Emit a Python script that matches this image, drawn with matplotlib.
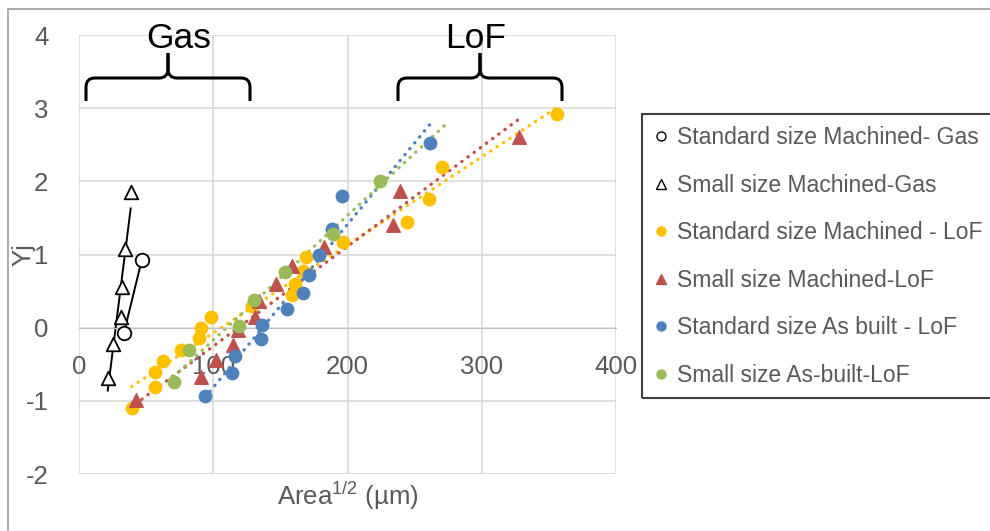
import numpy as np
import matplotlib
matplotlib.use("Agg")
import matplotlib.pyplot as plt
from matplotlib.path import Path
from matplotlib.patches import PathPatch, Rectangle
from matplotlib.lines import Line2D

plt.rcParams['font.family'] = ['Liberation Sans', 'DejaVu Sans']
plt.rcParams['mathtext.fontset'] = 'custom'
plt.rcParams['mathtext.rm'] = 'Liberation Sans'
plt.rcParams['axes.unicode_minus'] = False

# data
gas_std_x = [33.5, 46.7]
gas_std_y = [-0.07, 0.92]

gas_small_x = [21.4, 25.6, 31.0, 31.8, 34.3, 38.5]
gas_small_y = [-0.69, -0.22, 0.15, 0.56, 1.08, 1.85]

lof_std_mach_x = [39.2, 56.6, 56.6, 62.8, 75.7, 89.6, 90.6, 98.1, 128.6, 158.4,
                  161.1, 166.6, 169.1, 196.4, 244.1, 260.5, 270.1, 356.0]
lof_std_mach_y = [-1.10, -0.81, -0.61, -0.46, -0.30, -0.14, -0.01, 0.15, 0.29, 0.44,
                  0.60, 0.78, 0.96, 1.17, 1.44, 1.76, 2.20, 2.92]

lof_small_mach_x = [42.2, 90.9, 102.0, 115.0, 118.2, 131.1, 134.1, 147.0, 158.7,
                    182.7, 233.9, 239.1, 327.5]
lof_small_mach_y = [-0.99, -0.68, -0.44, -0.24, -0.03, 0.15, 0.36, 0.60, 0.84,
                    1.10, 1.41, 1.87, 2.60]

lof_std_built_x = [93.9, 114.2, 116.2, 135.3, 136.0, 154.7, 166.6, 171.5, 178.8,
                   188.5, 196.1, 261.5]
lof_std_built_y = [-0.93, -0.62, -0.39, -0.15, 0.04, 0.26, 0.48, 0.72, 1.00,
                   1.35, 1.80, 2.53]

lof_small_built_x = [70.8, 81.9, 119.4, 130.4, 153.4, 189.4, 224.2]
lof_small_built_y = [-0.74, -0.31, 0.02, 0.38, 0.76, 1.28, 2.01]

labels = ['Standard size Machined- Gas', 'Small size Machined-Gas',
          'Standard size Machined - LoF', 'Small size Machined-LoF',
          'Standard size As built - LoF', 'Small size As-built-LoF']

W, H = 990, 531
fig = plt.figure(figsize=(W / 100, H / 100), dpi=100)


def fx(x):
    return x / W


def fy(y):
    return 1 - y / H


ax = fig.add_axes([fx(79), fy(474), (616 - 79) / W, (474 - 35) / H])
ax.set_xlim(0, 400)
ax.set_ylim(-2, 4)
ax.set_xticks([0, 100, 200, 300, 400])
ax.set_yticks([-2, -1, 0, 1, 2, 3, 4])
ax.grid(True, color='#d9d9d9', lw=1.2)
ax.set_axisbelow(True)
for s in ['top', 'right', 'left']:
    ax.spines[s].set_visible(False)
ax.spines['bottom'].set_position(('data', 0))
ax.spines['bottom'].set_color('#bfbfbf')
ax.tick_params(length=0, labelsize=18.5, colors='#595959')
ax.tick_params(axis='x', pad=20)
ax.tick_params(axis='y', pad=22)


def trend(x, y, color, ext=0.0):
    k, b = np.polyfit(x, y, 1)
    xs = np.array([min(x), max(x) + ext])
    ax.plot(xs, k * xs + b, color=color, lw=2.4, linestyle=(0, (0.1, 2.2)),
            dash_capstyle='round', zorder=2)


def solid_trend(x, y):
    k, b = np.polyfit(x, y, 1)
    xs = np.array([min(x), max(x)])
    ax.plot(xs, k * xs + b, color='black', lw=1.4, zorder=2)


yellow, red, blue, green = '#FFC000', '#C0504D', '#4F81BD', '#9BBB59'

solid_trend(gas_std_x, gas_std_y)
solid_trend(gas_small_x, gas_small_y)
ax.scatter(gas_std_x, gas_std_y, s=95, marker='o', facecolor='white',
           edgecolor='black', lw=1.3, zorder=4)
ax.scatter(gas_small_x, gas_small_y, s=95, marker='^', facecolor='white',
           edgecolor='black', lw=1.3, zorder=4)

trend(lof_std_mach_x, lof_std_mach_y, yellow)
trend(lof_small_mach_x, lof_small_mach_y, red)
trend(lof_std_built_x, lof_std_built_y, blue)
trend(lof_small_built_x, lof_small_built_y, green, ext=50)

ax.scatter(lof_std_mach_x, lof_std_mach_y, s=80, color=yellow, zorder=3)
ax.scatter(lof_small_mach_x, lof_small_mach_y, s=95, marker='^', color=red, zorder=3)
ax.scatter(lof_std_built_x, lof_std_built_y, s=80, color=blue, zorder=3)
ax.scatter(lof_small_built_x, lof_small_built_y, s=80, color=green, zorder=3)

ax.set_xlabel('Area$^{\\mathrm{1/2}}$ (µm)', fontsize=18.5, color='#595959',
              va='center')
ax.xaxis.set_label_coords(0.5, -0.05)
ax.set_ylabel('Yj', fontsize=18.5, color='#595959', va='center')
ax.yaxis.set_label_coords(-0.103, 0.5)


def brace(x0, x1, ytop, ybot, ypeak, r=9):
    xm = (x0 + x1) / 2
    for a, sgn in [(x0, 1), (x1, -1)]:
        verts = [(a, ybot), (a, ytop + r), (a, ytop), (a + sgn * r, ytop),
                 (xm - sgn * r, ytop), (xm, ytop), (xm, ytop - r), (xm, ypeak)]
        codes = [Path.MOVETO, Path.LINETO, Path.CURVE3, Path.CURVE3,
                 Path.LINETO, Path.CURVE3, Path.CURVE3, Path.LINETO]
        p = Path([(fx(v[0]), fy(v[1])) for v in verts], codes)
        fig.add_artist(PathPatch(p, fill=False, lw=2.2, color='black',
                                 transform=fig.transFigure))


brace(86, 250, 78, 101, 53)
brace(398, 562, 78, 101, 53)
fig.text(fx(179), fy(39), 'Gas', fontsize=25.5, ha='center', va='center')
fig.text(fx(476), fy(39), 'LoF', fontsize=25.5, ha='center', va='center')

# chart border and legend box
fig.add_artist(Rectangle((fx(8), fy(560)), 1.2, fy(9) - fy(560), fill=False,
                         ec='#a0a0a0', lw=1.2, transform=fig.transFigure))
fig.add_artist(Rectangle((fx(642), fy(398)), 0.5, fy(114) - fy(398), fill=False,
                         ec='#404040', lw=1.5, transform=fig.transFigure))

handles = [
    Line2D([], [], ls='none', marker='o', mfc='white', mec='black', ms=6.5),
    Line2D([], [], ls='none', marker='^', mfc='white', mec='black', ms=6.5),
    Line2D([], [], ls='none', marker='o', color=yellow, ms=6.5),
    Line2D([], [], ls='none', marker='^', color=red, ms=6.5),
    Line2D([], [], ls='none', marker='o', color=blue, ms=6.5),
    Line2D([], [], ls='none', marker='o', color=green, ms=6.5),
]
leg = fig.legend(handles, labels, loc='upper left',
                 bbox_to_anchor=(fx(652), fy(126)), frameon=False,
                 fontsize=16.5, labelcolor='#595959', handlelength=0.8,
                 handletextpad=0.3, labelspacing=1.07, borderpad=0,
                 borderaxespad=0)

fig.savefig('out.png', dpi=100)
